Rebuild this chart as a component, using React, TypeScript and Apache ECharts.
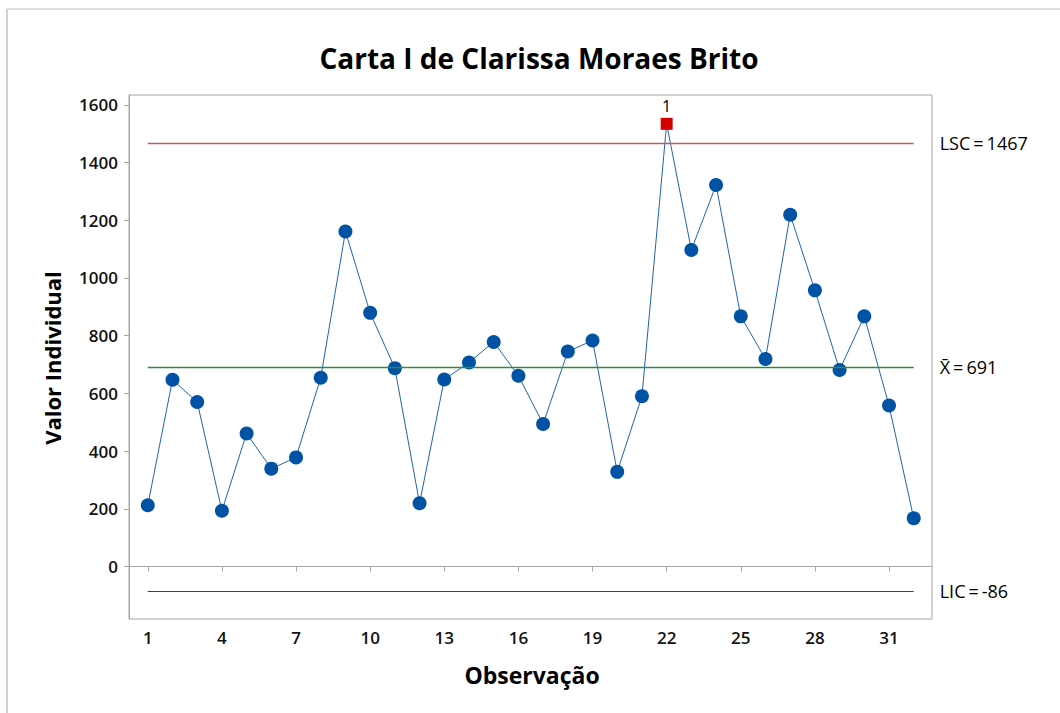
import React, { useEffect, useRef } from "react";
import * as echarts from "echarts";

const observations: number[] = Array.from({ length: 32 }, (_, i) => i + 1);
const values: number[] = [
  212, 647, 570, 193, 461, 339, 378, 654, 1161, 879, 687, 219, 648, 707, 778, 661,
  494, 745, 783, 328, 590, 1534, 1097, 1322, 867, 719, 1219, 957, 681, 867, 558, 167,
];
const flaggedObs: number[] = [22];
const xTicks: number[] = [1, 4, 7, 10, 13, 16, 19, 22, 25, 28, 31];
const yTicks: number[] = [0, 200, 400, 600, 800, 1000, 1200, 1400, 1600];
const LSC = 1467;
const MEAN = 691;
const LIC = -86;
const title = "Carta I de Clarissa Moraes Brito";

const FONT = "'Open Sans', 'Noto Sans', sans-serif";
const EQ = "\u2009=\u2009";

export default function App() {
  const ref = useRef<HTMLDivElement>(null);
  useEffect(() => {
    if (!ref.current) return;
    const chart = echarts.init(ref.current, null, { renderer: "svg" });
    const first = observations[0];
    const last = observations[observations.length - 1];
    const lineData = observations.map((o, i) => [o, values[i]]);
    const flaggedData = observations
      .map((o, i) => [o, values[i]])
      .filter((d) => flaggedObs.includes(d[0]));
    const normalData = observations
      .map((o, i) => [o, values[i]])
      .filter((d) => !flaggedObs.includes(d[0]));
    const labelStyle = { color: "#000", fontSize: 18, fontFamily: FONT };
    const tickLabel = {
      color: "#111",
      fontSize: 17,
      fontWeight: 600,
      fontFamily: FONT,
      formatter: (v: number) => String(v),
    };
    chart.setOption({
      animation: false,
      backgroundColor: "#fff",
      textStyle: { fontFamily: FONT },
      grid: {
        left: 129,
        top: 95,
        right: 128,
        bottom: 94,
        show: true,
        borderColor: "#a6a6a6",
        borderWidth: 1,
      },
      xAxis: {
        type: "value",
        min: 0.24,
        max: 32.74,
        splitLine: { show: false },
        axisLine: { show: true, lineStyle: { color: "#a6a6a6" } },
        axisTick: {
          show: true,
          length: 5,
          lineStyle: { color: "#a6a6a6" },
          customValues: xTicks,
        },
        axisLabel: { ...tickLabel, customValues: xTicks, margin: 10 },
      },
      yAxis: {
        type: "value",
        min: -182,
        max: 1634,
        splitLine: { show: false },
        axisLine: { show: true, lineStyle: { color: "#a6a6a6" } },
        axisTick: {
          show: true,
          length: 5,
          lineStyle: { color: "#a6a6a6" },
          customValues: yTicks,
        },
        axisLabel: { ...tickLabel, customValues: yTicks, margin: 11 },
      },
      graphic: [
        {
          type: "line",
          shape: { x1: 7, y1: 9, x2: 1060, y2: 9 },
          style: { stroke: "#dcdcdc", lineWidth: 2 },
        },
        {
          type: "line",
          shape: { x1: 7, y1: 9, x2: 7, y2: 713 },
          style: { stroke: "#d0d0d0", lineWidth: 2 },
        },
        {
          type: "text",
          x: 539,
          y: 58,
          style: {
            text: title,
            fill: "#000",
            font: `bold 28px ${FONT}`,
            textAlign: "center",
            textVerticalAlign: "middle",
          },
        },
        {
          type: "text",
          x: 52,
          y: 358,
          rotation: Math.PI / 2,
          style: {
            text: "Valor Individual",
            fill: "#000",
            font: `bold 22px ${FONT}`,
            textAlign: "center",
            textVerticalAlign: "middle",
          },
        },
        {
          type: "text",
          x: 532,
          y: 675,
          style: {
            text: "Observação",
            fill: "#000",
            font: `bold 23px ${FONT}`,
            textAlign: "center",
            textVerticalAlign: "middle",
          },
        },
      ],
      series: [
        {
          type: "line",
          data: lineData,
          showSymbol: false,
          symbol: "none",
          lineStyle: { color: "#1e64b4", width: 1 },
          z: 2,
          markLine: {
            silent: true,
            symbol: "none",
            data: [
              [
                {
                  coord: [first, LSC],
                  lineStyle: { color: "#c95a58", width: 1.3, type: "solid" },
                  label: { formatter: `LSC${EQ}${LSC}` },
                },
                { coord: [last, LSC] },
              ],
              [
                {
                  coord: [first, MEAN],
                  lineStyle: { color: "#2e8b3e", width: 1.3, type: "solid" },
                  label: { formatter: `X\u0304${EQ}${MEAN}` },
                },
                { coord: [last, MEAN] },
              ],
              [
                {
                  coord: [first, LIC],
                  lineStyle: { color: "#a81818", width: 1, type: "solid" },
                  label: { formatter: `LIC${EQ}${LIC}` },
                },
                { coord: [last, LIC] },
              ],
            ],
            label: {
              show: true,
              position: "end",
              distance: 26,
              ...labelStyle,
            },
          },
        },
        {
          type: "scatter",
          data: normalData,
          symbol: "circle",
          symbolSize: 14,
          itemStyle: { color: "#0053a4", opacity: 1 },
          z: 3,
        },
        {
          type: "scatter",
          data: flaggedData,
          symbol: "rect",
          symbolSize: 12,
          itemStyle: { color: "#d40000", opacity: 1 },
          z: 3,
          label: {
            show: true,
            formatter: "1",
            position: "top",
            distance: 4,
            color: "#000",
            opacity: 1,
            fontSize: 16,
            fontFamily: FONT,
          },
        },
      ],
    });
    return () => chart.dispose();
  }, []);
  return (
    <div
      ref={ref}
      style={{ position: "fixed", left: 0, top: 0, width: 1060, height: 713 }}
    />
  );
}
